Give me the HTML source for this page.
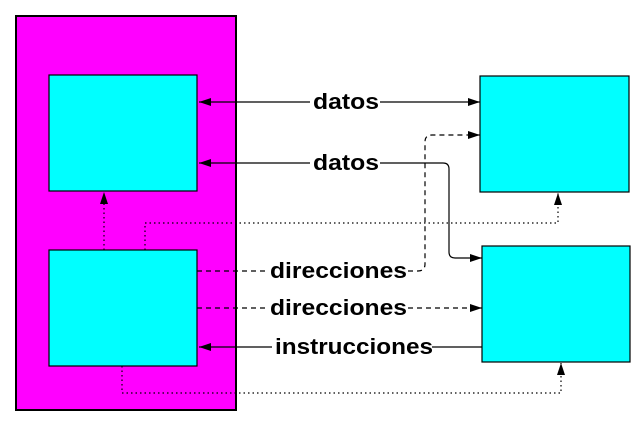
<!DOCTYPE html>
<html><head><style>html,body{margin:0;padding:0;background:#fff}svg{display:block}</style></head>
<body>
<svg width="643" height="433" viewBox="0 0 643 433" xmlns="http://www.w3.org/2000/svg">
<defs>
<marker id="a" markerWidth="12" markerHeight="8" refX="12" refY="4" orient="auto" markerUnits="userSpaceOnUse"><path d="M0,0 L12,4 L0,8 Z" fill="#000"/></marker>
</defs>
<rect x="16" y="16" width="220" height="394" fill="#ff00ff" stroke="#000" stroke-width="2"/>
<rect x="49" y="75" width="148" height="116" fill="#00ffff" stroke="#000" stroke-width="1.2"/>
<rect x="49" y="250" width="148" height="116" fill="#00ffff" stroke="#000" stroke-width="1.2"/>
<rect x="480" y="76" width="149" height="116" fill="#00ffff" stroke="#000" stroke-width="1.2"/>
<rect x="482" y="246" width="148" height="116" fill="#00ffff" stroke="#000" stroke-width="1.2"/>
<g stroke="#000" stroke-width="1.2" fill="none">
<line x1="310" y1="102" x2="199" y2="102" marker-end="url(#a)"/>
<line x1="380" y1="102" x2="480" y2="102" marker-end="url(#a)"/>
<line x1="310" y1="163" x2="199" y2="163" marker-end="url(#a)"/>
<path d="M380,163 H443 Q449,163 449,169 V252 Q449,258 455,258 H482" marker-end="url(#a)"/>
<path d="M197,271 H268" stroke-dasharray="5,4"/>
<path d="M408,271 H418 Q425,271 425,264 V142 Q425,135 432,135 H480" stroke-dasharray="5,4" marker-end="url(#a)"/>
<path d="M197,308 H268" stroke-dasharray="5,4"/>
<path d="M408,308 H482" stroke-dasharray="5,4" marker-end="url(#a)"/>
<line x1="272" y1="347" x2="199" y2="347" marker-end="url(#a)"/>
<line x1="432" y1="347" x2="482" y2="347"/>
<path d="M104,250 V192" stroke-dasharray="1.5,3" marker-end="url(#a)"/>
<path d="M145,250 V223 H558 V193" stroke-dasharray="1.5,3" marker-end="url(#a)"/>
<path d="M122,366 V393 H561 V363" stroke-dasharray="1.5,3" marker-end="url(#a)"/>
</g>
<g font-family="Liberation Sans, sans-serif" font-weight="bold" font-size="22" fill="#000">
<text x="313" y="109" textLength="66" lengthAdjust="spacingAndGlyphs">datos</text>
<text x="313" y="170" textLength="66" lengthAdjust="spacingAndGlyphs">datos</text>
<text x="270" y="278" textLength="137" lengthAdjust="spacingAndGlyphs">direcciones</text>
<text x="270" y="315" textLength="137" lengthAdjust="spacingAndGlyphs">direcciones</text>
<text x="275" y="354" textLength="158" lengthAdjust="spacingAndGlyphs">instrucciones</text>
</g>
</svg>
</body></html>
